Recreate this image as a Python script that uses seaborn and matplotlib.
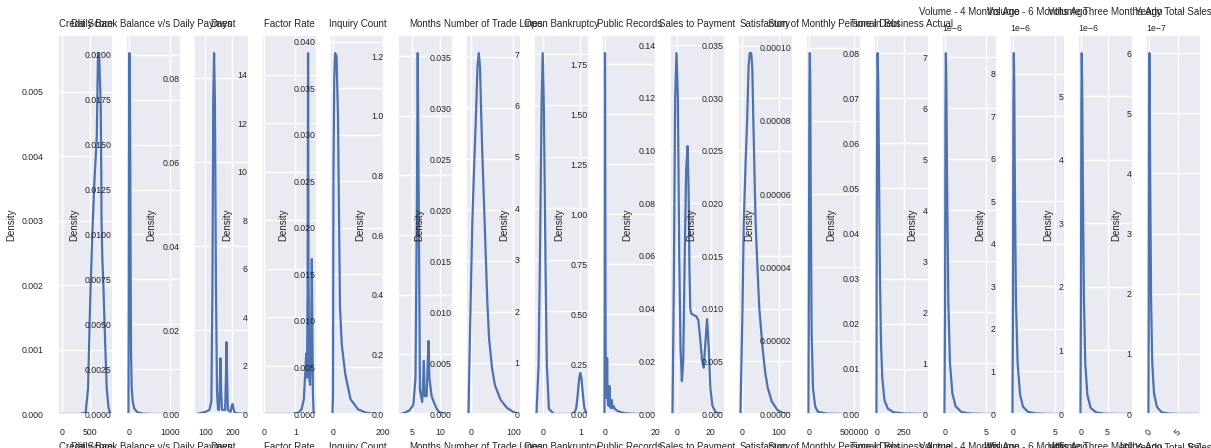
import matplotlib
matplotlib.use('Agg')
import matplotlib.pyplot as plt
import seaborn as sns

# ------------------- Column names (title and x label of each panel) -------------------
columns = ['Credit Score', 'Daily Bank Balance v/s Daily Payment', 'Days', 'Factor Rate',
           'Inquiry Count', 'Months', 'Number of Trade Lines', 'Open Bankruptcy',
           'Public Records', 'Sales to Payment', 'Satisfactory', 'Sum of Monthly Personal Debt',
           'Time in Business Actual', 'Volume - 4 Months Ago', 'Volume - 6 Months Ago',
           'Volume Three Months Ago', 'Yearly Total Sales']

# ------------------- Density curves -------------------
credit_score_x = [-30, 300, 420, 464, 500, 540, 577, 620, 635, 643, 665, 690, 700, 705, 720, 738, 770, 798, 830, 866]
credit_score_y = [0, 0, 0.00002, 0.0004, 0.0017, 0.0028, 0.0036, 0.0043, 0.0052, 0.0056, 0.0055, 0.0048,
                  0.0038, 0.0030, 0.0024, 0.0020, 0.0011, 0.0004, 0.0001, 0]

bank_balance_x = [-12, -5, 0, 5, 12, 20, 30, 40, 50, 65, 90, 130, 200, 350, 600, 1207]
bank_balance_y = [0, 0.006, 0.013, 0.018, 0.0201, 0.0195, 0.015, 0.008, 0.0035, 0.0015, 0.0007,
                  0.0003, 0.0001, 0.00002, 0, 0]

days_x = [67, 80, 100, 115, 122, 126, 129, 132, 135, 139, 143, 147, 150, 153, 155.5, 158, 161,
          173, 176, 178, 180, 183, 193, 197, 200, 203, 208, 225, 252]
days_y = [0, 0.0002, 0.0005, 0.001, 0.003, 0.03, 0.075, 0.086, 0.075, 0.03, 0.005, 0.001, 0.001,
          0.006, 0.0133, 0.006, 0.001, 0.001, 0.009, 0.0171, 0.009, 0.001, 0.0005, 0.0018, 0.0024,
          0.0015, 0.0003, 0.0001, 0]

factor_rate_x = [0.02, 0.5, 0.9, 1.1, 1.2, 1.27, 1.32, 1.345, 1.37, 1.39, 1.405, 1.42, 1.44, 1.47,
                 1.50, 1.525, 1.545, 1.56, 1.58, 1.61]
factor_rate_y = [0, 0, 0.001, 0.05, 0.2, 0.6, 1.8, 2.5, 1.5, 5.0, 14.9, 6.0, 1.5, 1.2, 3.0, 6.4,
                 3.0, 0.8, 0.1, 0]

inquiry_x = [-2, 0, 2, 5, 8, 14, 20, 25, 28, 35, 49, 70, 100, 130, 165, 198]
inquiry_y = [0, 0.002, 0.026, 0.036, 0.0388, 0.0385, 0.032, 0.019, 0.0115, 0.0075, 0.0043, 0.0016,
             0.0005, 0.00015, 0.00003, 0]

months_x = [2.9, 3.5, 4.5, 5.2, 5.6, 5.85, 6.0, 6.15, 6.4, 6.8, 7.0, 7.1, 7.25, 7.6, 7.85, 7.95,
            8.1, 8.5, 9.0, 9.5, 10.0, 11.0, 11.9]
months_y = [0, 0.003, 0.012, 0.03, 0.12, 0.7, 1.21, 0.8, 0.08, 0.04, 0.12, 0.178, 0.06, 0.06, 0.2,
            0.245, 0.12, 0.06, 0.035, 0.015, 0.005, 0.001, 0]

trade_lines_x = [-5, -4, 0, 4, 8, 12, 16, 19, 22, 24, 27, 31, 35, 39, 43, 50, 57, 70, 85, 100, 112]
trade_lines_y = [0, 0.0025, 0.011, 0.0189, 0.024, 0.0287, 0.034, 0.0354, 0.034, 0.0305, 0.026,
                 0.021, 0.016, 0.011, 0.0075, 0.0045, 0.0028, 0.0014, 0.0006, 0.0002, 0]

bankruptcy_x = [-0.165, -0.11, -0.08, -0.055, -0.03, 0, 0.03, 0.055, 0.08, 0.11, 0.165, 0.3, 0.7,
                0.835, 0.89, 0.92, 0.945, 0.97, 1.0, 1.03, 1.055, 1.08, 1.11, 1.165]
bankruptcy_y = [0.01, 0.95, 2.6, 4.25, 6.0, 7.02, 6.0, 4.25, 2.6, 0.95, 0.1, 0, 0, 0.01, 0.11, 0.3,
                0.49, 0.69, 0.8, 0.69, 0.49, 0.3, 0.11, 0.01]

public_records_x = [-0.2, -0.1, 0, 0.1, 0.25, 0.45, 0.7, 0.85, 1.0, 1.2, 1.5, 1.75, 2.0, 2.3, 2.7,
                    3.0, 3.4, 4.0, 5.0, 6.5, 8.0, 10.0, 13.0, 16.0, 19.8]
public_records_y = [0, 0.5, 1.805, 1.3, 0.35, 0.08, 0.12, 0.28, 0.12, 0.05, 0.04, 0.14, 0.05, 0.03,
                    0.07, 0.03, 0.04, 0.025, 0.015, 0.008, 0.004, 0.002, 0.0007, 0.0002, 0]

sales_payment_x = [-2.8, -2.0, -1.2, -0.4, 0.4, 1.2, 2.0, 2.8, 3.6, 4.5, 5.3, 6.2, 6.8, 7.3, 7.8,
                   8.5, 10.0, 11.5, 12.6, 13.8, 14.8, 15.8, 16.8, 17.8, 18.8, 19.8, 21.0, 23.0, 27.0]
sales_payment_y = [0, 0.05, 0.12, 0.137, 0.12, 0.06, 0.025, 0.0125, 0.02, 0.06, 0.092, 0.1017, 0.085,
                   0.055, 0.04, 0.038, 0.0375, 0.037, 0.0356, 0.028, 0.0205, 0.0176, 0.027, 0.036,
                   0.025, 0.0097, 0.003, 0.0006, 0]

satisfactory_x = [-5, -4, 0, 4, 9, 13, 17, 20, 24, 27, 30, 36, 41, 46, 55, 62, 69, 80, 95, 110, 131]
satisfactory_y = [0, 0.002, 0.009, 0.0183, 0.024, 0.0278, 0.033, 0.0343, 0.0343, 0.033, 0.0278,
                  0.0183, 0.014, 0.0101, 0.0063, 0.004, 0.0025, 0.0012, 0.0004, 0.0001, 0]

personal_debt_x = [-5000, 0, 5000, 10000, 15000, 20000, 30000, 45000, 70000, 100000, 200000, 350000, 550000]
personal_debt_y = [0, 4e-5, 9e-5, 9.85e-5, 9e-5, 6e-5, 2.2e-5, 7e-6, 2e-6, 6e-7, 1e-7, 2e-8, 0]

time_business_x = [-2.5, 0, 4, 8, 13, 20, 28, 38, 50, 70, 100, 150, 250, 450]
time_business_y = [0, 0.04, 0.07, 0.080, 0.074, 0.055, 0.032, 0.016, 0.008, 0.003, 0.0012, 0.0004,
                   0.0001, 0]

volume_4_x = [-0.07e6, 0, 0.05e6, 0.1e6, 0.16e6, 0.25e6, 0.4e6, 0.6e6, 0.9e6, 1.3e6, 2.0e6, 3.0e6, 4.5e6, 6.06e6]
volume_4_y = [0, 2.0e-6, 6.0e-6, 7.08e-6, 6.5e-6, 4.5e-6, 2.2e-6, 1.0e-6, 4e-7, 1.5e-7, 4e-8, 1e-8, 2e-9, 0]

volume_6_x = [-0.06e6, 0, 0.05e6, 0.1e6, 0.15e6, 0.22e6, 0.35e6, 0.55e6, 0.85e6, 1.2e6, 1.8e6, 2.8e6, 4.2e6, 5.92e6]
volume_6_y = [0, 2.5e-6, 7.2e-6, 8.49e-6, 7.8e-6, 5.5e-6, 2.7e-6, 1.2e-6, 4.5e-7, 1.7e-7, 5e-8, 1.2e-8, 2e-9, 0]

volume_3_x = [-0.1e6, 0, 0.07e6, 0.14e6, 0.22e6, 0.35e6, 0.55e6, 0.8e6, 1.2e6, 1.8e6, 2.8e6, 4.5e6, 7.0e6, 9.33e6]
volume_3_y = [0, 1.8e-6, 4.9e-6, 5.68e-6, 5.2e-6, 3.6e-6, 1.8e-6, 8e-7, 3e-7, 1e-7, 2.5e-8, 5e-9, 1e-9, 0]

yearly_sales_x = [-0.05e7, 0, 0.05e7, 0.1e7, 0.16e7, 0.25e7, 0.4e7, 0.6e7, 0.9e7, 1.4e7, 2.2e7, 3.5e7, 5.5e7, 8.6e7]
yearly_sales_y = [0, 1.8e-7, 5.2e-7, 6.0e-7, 5.4e-7, 3.8e-7, 1.9e-7, 8.5e-8, 3.5e-8, 1.2e-8, 3e-9, 6e-10, 1e-10, 0]

curves = [(credit_score_x, credit_score_y), (bank_balance_x, bank_balance_y), (days_x, days_y),
          (factor_rate_x, factor_rate_y), (inquiry_x, inquiry_y), (months_x, months_y),
          (trade_lines_x, trade_lines_y), (bankruptcy_x, bankruptcy_y),
          (public_records_x, public_records_y), (sales_payment_x, sales_payment_y),
          (satisfactory_x, satisfactory_y), (personal_debt_x, personal_debt_y),
          (time_business_x, time_business_y), (volume_4_x, volume_4_y), (volume_6_x, volume_6_y),
          (volume_3_x, volume_3_y), (yearly_sales_x, yearly_sales_y)]

# ------------------- Style -------------------
sns.set_theme(style='darkgrid')
plt.rcParams['font.family'] = ['Liberation Sans', 'DejaVu Sans']
plt.rcParams.update({
    'axes.titlesize': 7,
    'axes.labelsize': 7,
    'xtick.labelsize': 6.3,
    'ytick.labelsize': 6.3,
    'xtick.major.size': 0,
    'ytick.major.size': 0,
    'xtick.major.pad': 10,
    'ytick.major.pad': 10.5,
    'axes.labelpad': 4,
    'lines.linewidth': 1.6,
})

# ------------------- Plot: one density panel per column -------------------
fig, axes = plt.subplots(1, len(columns), figsize=(12.11, 4.48), dpi=100)
fig.subplots_adjust(left=58 / 1211, right=1201 / 1211, bottom=34 / 448, top=1 - 35 / 448, wspace=0.236)

for ax, name, (xs, ys) in zip(axes, columns, curves):
    sns.lineplot(x=xs, y=ys, ax=ax)
    ax.set_ylim(bottom=0)
    ax.set_title(name)
    ax.set_xlabel(name)
    ax.set_ylabel('Density')

plt.xticks(rotation=45)
fig.savefig('out.png', dpi=100)
